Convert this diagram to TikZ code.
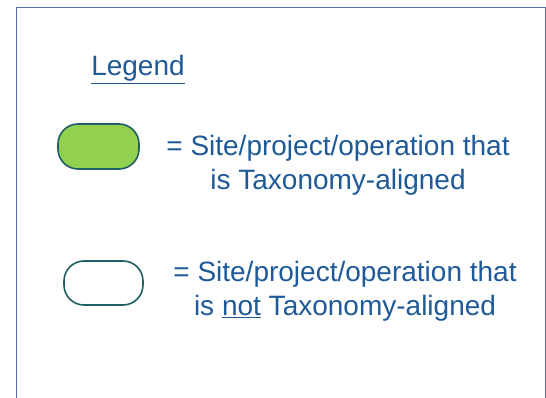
\documentclass[tikz,border=0pt]{standalone}
\usepackage{fontspec}
\setmainfont{Liberation Sans}
\usepackage{tikz}
\definecolor{legendblue}{HTML}{1F5A98}
\definecolor{framecol}{HTML}{5B6AA6}
\definecolor{edgeteal}{HTML}{1F5F63}
\definecolor{alignedgreen}{HTML}{92D050}

\begin{document}
\begin{tikzpicture}[x=1pt,y=1pt]
\tikzstyle{every node}+=[inner sep=0pt]
\tikzstyle{keytext}=[text=legendblue, font=\fontsize{28}{34}\selectfont, align=center]
\tikzstyle{swatch}=[draw=edgeteal, line width=1.6pt, rounded corners=20pt, minimum width=81pt, minimum height=45pt]
\useasboundingbox (0,0) rectangle (546,-398);
% open frame, bottom runs off the page
\draw [framecol, line width=1pt] (16.5,-400) -- (16.5,-7.5) -- (545,-7.5) -- (545,-400);
\node [keytext] (title) at (138,-69.5) {\underline{Legend}};
% aligned
\node [swatch, fill=alignedgreen] (green) at (98.5,-146.5) {};
\node [keytext] (greentext) at (338,-165.5) {= Site/project/operation that\\is Taxonomy-aligned};
% not aligned
\node [swatch, fill=white, minimum width=79pt, minimum height=44pt] (blank) at (103.5,-283) {};
\node [keytext] (blanktext) at (345,-291.5) {= Site/project/operation that\\is \underline{not} Taxonomy-aligned};
\end{tikzpicture}
\end{document}
